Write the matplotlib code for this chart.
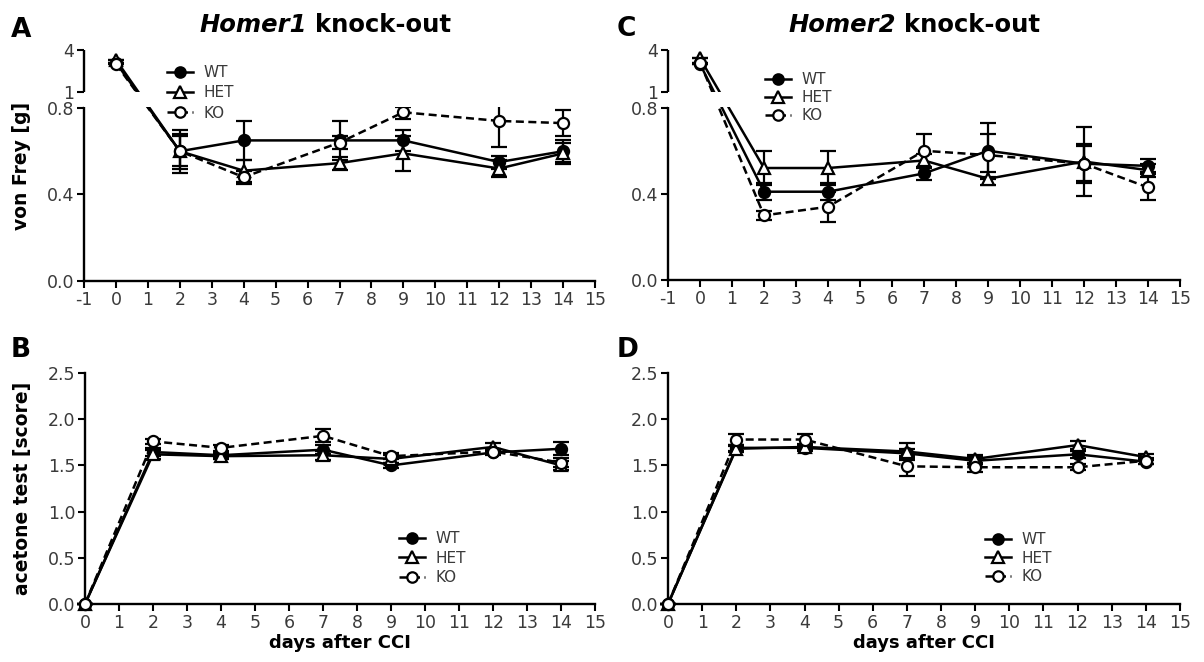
"""
Homer1 / Homer2 knock-out: von Frey and acetone test after CCI.
"""

import matplotlib.pyplot as plt
import numpy as np
from matplotlib.lines import Line2D

plt.rcParams["font.family"] = "DejaVu Sans"
plt.rcParams["axes.unicode_minus"] = False

GROUPS = ["WT", "HET", "KO"]
DAYS = [0, 2, 4, 7, 9, 12, 14]

# von Frey [g], Homer1
H1_VF_WT = [3.1, 0.60, 0.65, 0.65, 0.65, 0.55, 0.60]
H1_VF_HET = [3.3, 0.60, 0.51, 0.545, 0.59, 0.52, 0.59]
H1_VF_KO = [3.0, 0.60, 0.48, 0.64, 0.78, 0.74, 0.73]
H1_VF_WT_ERR = [0.0, 0.10, 0.09, 0.09, 0.05, 0.03, 0.05]
H1_VF_HET_ERR = [0.0, 0.08, 0.05, 0.03, 0.08, 0.04, 0.05]
H1_VF_KO_ERR = [0.0, 0.07, 0.03, 0.03, 0.03, 0.12, 0.06]

# von Frey [g], Homer2
H2_VF_WT = [3.0, 0.41, 0.41, 0.495, 0.60, 0.54, 0.53]
H2_VF_HET = [3.4, 0.52, 0.52, 0.555, 0.47, 0.55, 0.51]
H2_VF_KO = [3.1, 0.30, 0.34, 0.60, 0.58, 0.54, 0.43]
H2_VF_WT_ERR = [0.0, 0.04, 0.04, 0.03, 0.13, 0.09, 0.03]
H2_VF_HET_ERR = [0.0, 0.08, 0.08, 0.03, 0.03, 0.16, 0.03]
H2_VF_KO_ERR = [0.0, 0.02, 0.07, 0.08, 0.10, 0.08, 0.06]

# acetone test [score], Homer1
H1_AC_WT = [0.0, 1.645, 1.61, 1.67, 1.50, 1.64, 1.68]
H1_AC_HET = [0.0, 1.62, 1.60, 1.61, 1.57, 1.70, 1.50]
H1_AC_KO = [0.0, 1.76, 1.69, 1.82, 1.60, 1.65, 1.53]
H1_AC_WT_ERR = [0.0, 0.04, 0.03, 0.05, 0.03, 0.03, 0.07]
H1_AC_HET_ERR = [0.0, 0.05, 0.03, 0.05, 0.04, 0.04, 0.05]
H1_AC_KO_ERR = [0.0, 0.03, 0.03, 0.07, 0.03, 0.03, 0.05]

# acetone test [score], Homer2
H2_AC_WT = [0.0, 1.69, 1.69, 1.63, 1.55, 1.62, 1.54]
H2_AC_HET = [0.0, 1.68, 1.70, 1.65, 1.57, 1.72, 1.59]
H2_AC_KO = [0.0, 1.78, 1.78, 1.49, 1.48, 1.48, 1.55]
H2_AC_WT_ERR = [0.0, 0.03, 0.03, 0.05, 0.04, 0.04, 0.03]
H2_AC_HET_ERR = [0.0, 0.03, 0.03, 0.09, 0.04, 0.04, 0.03]
H2_AC_KO_ERR = [0.0, 0.06, 0.06, 0.11, 0.05, 0.03, 0.03]

# broken von Frey axis: 0-0.8 linear, gap, 1-4 compressed
VF_REAL = [0.0, 0.8, 1.0, 4.0]
VF_POS = [0.0, 0.8, 0.874, 1.068]

TICK_GRAY = "#3a3a3a"
STYLES = {
    "WT": dict(marker="o", mfc="black", ms=8, ls="-"),
    "HET": dict(marker="^", mfc="white", ms=8.5, ls="-"),
    "KO": dict(marker="o", mfc="white", ms=8, ls=(0, (3.2, 1.8))),
}


def vf_forward(y):
    return np.interp(y, VF_REAL, VF_POS)


def vf_inverse(p):
    return np.interp(p, VF_POS, VF_REAL)


def draw_series(ax, values, errors):
    for g, v, e in zip(GROUPS, values, errors):
        st = STYLES[g]
        cont = ax.errorbar(
            DAYS, v, yerr=e, color="black", lw=1.8, ls=st["ls"],
            marker=st["marker"], ms=st["ms"], mfc=st["mfc"], mec="black", mew=1.6,
            elinewidth=1.6, capsize=5.5, capthick=1.6, zorder=3,
        )
        for art in cont.get_children():
            art.set_clip_on(False)


def style_axes(ax):
    ax.spines["top"].set_visible(False)
    ax.spines["right"].set_visible(False)
    for s in ("left", "bottom"):
        ax.spines[s].set_linewidth(1.7)
    ax.tick_params(direction="out", length=5, width=1.5, labelsize=12.5,
                   labelcolor=TICK_GRAY, pad=2)


def add_legend(ax, anchor, spacing=0.35):
    handles = [
        Line2D([], [], color="black", lw=1.8, ls=STYLES[g]["ls"], marker=STYLES[g]["marker"],
               ms=STYLES[g]["ms"] - 0.5, mfc=STYLES[g]["mfc"], mec="black", mew=1.6)
        for g in GROUPS
    ]
    leg = ax.legend(handles, GROUPS, loc="upper left", bbox_to_anchor=anchor, frameon=False,
                    fontsize=11, handlelength=1.7, handletextpad=0.7, labelspacing=spacing,
                    borderpad=0, borderaxespad=0)
    for t in leg.get_texts():
        t.set_color(TICK_GRAY)


def von_frey_panel(ax, values, errors, legend_anchor, spacing, ylabel=None):
    ax.set_yscale("function", functions=(vf_forward, vf_inverse))
    draw_series(ax, values, errors)
    ax.set_xlim(-1, 15)
    ax.set_ylim(0, 4)
    ax.set_xticks(range(-1, 16))
    ax.set_yticks([0.0, 0.4, 0.8, 1.0, 4.0])
    ax.set_yticklabels(["0.0", "0.4", "0.8", "1", "4"])
    ax.minorticks_off()
    style_axes(ax)
    ax.spines["left"].set_bounds(0, 0.8)
    # upper segment of broken axis
    ax.plot([0, 0], [VF_REAL[2], VF_REAL[3]], transform=ax.get_yaxis_transform(),
            color="black", lw=1.7, clip_on=False, solid_capstyle="butt", zorder=6)
    # hide data lines in the break
    ax.axhspan(0.815, 0.995, color="white", lw=0, zorder=5)
    if ylabel:
        ax.set_ylabel(ylabel, fontsize=13.5, fontweight="bold", labelpad=11)
    add_legend(ax, legend_anchor, spacing)


def acetone_panel(ax, values, errors, legend_anchor, spacing, ylabel=None):
    draw_series(ax, values, errors)
    ax.set_xlim(0, 15)
    ax.set_ylim(0, 2.5)
    ax.set_xticks(range(0, 16))
    ax.set_yticks([0.0, 0.5, 1.0, 1.5, 2.0, 2.5])
    ax.set_yticklabels([f"{v:.1f}" for v in [0.0, 0.5, 1.0, 1.5, 2.0, 2.5]])
    style_axes(ax)
    ax.set_xlabel("days after CCI", fontsize=13, fontweight="bold", labelpad=2)
    if ylabel:
        ax.set_ylabel(ylabel, fontsize=13.5, fontweight="bold", labelpad=11)
    add_legend(ax, legend_anchor, spacing)


fig = plt.figure(figsize=(12.04, 6.62), dpi=100, facecolor="white")
W, H = 1204, 662

ax_a = fig.add_axes([84 / W, 1 - 281 / H, 511 / W, 231 / H])
ax_c = fig.add_axes([668 / W, 1 - 280 / H, 512 / W, 230 / H])
ax_b = fig.add_axes([85 / W, 1 - 604 / H, 510 / W, 231 / H])
ax_d = fig.add_axes([668 / W, 1 - 604 / H, 512 / W, 231 / H])

von_frey_panel(ax_a, [H1_VF_WT, H1_VF_HET, H1_VF_KO],
               [H1_VF_WT_ERR, H1_VF_HET_ERR, H1_VF_KO_ERR], (0.162, 0.935), 0.35, "von Frey [g]")
von_frey_panel(ax_c, [H2_VF_WT, H2_VF_HET, H2_VF_KO],
               [H2_VF_WT_ERR, H2_VF_HET_ERR, H2_VF_KO_ERR], (0.19, 0.905), 0.2)
acetone_panel(ax_b, [H1_AC_WT, H1_AC_HET, H1_AC_KO],
              [H1_AC_WT_ERR, H1_AC_HET_ERR, H1_AC_KO_ERR], (0.616, 0.315), 0.3,
              "acetone test [score]")
acetone_panel(ax_d, [H2_AC_WT, H2_AC_HET, H2_AC_KO],
              [H2_AC_WT_ERR, H2_AC_HET_ERR, H2_AC_KO_ERR], (0.619, 0.31), 0.22)

# panel letters
for letter, x, y in [("A", 11, 37), ("B", 11, 357), ("C", 617, 36), ("D", 617, 357)]:
    fig.text(x / W, 1 - y / H, letter, fontsize=19, fontweight="bold", va="baseline", ha="left")

# titles: italic gene name + bold "knock-out"
for gene, split in [("Homer1", 311), ("Homer2", 900)]:
    fig.text((split - 4) / W, 1 - 32 / H, gene, fontsize=17.5, fontweight="bold",
             style="italic", ha="right", va="baseline")
    fig.text((split + 4) / W, 1 - 32 / H, "knock-out", fontsize=17.5, fontweight="bold",
             ha="left", va="baseline")

plt.savefig("out.png", dpi=100, facecolor="white")
